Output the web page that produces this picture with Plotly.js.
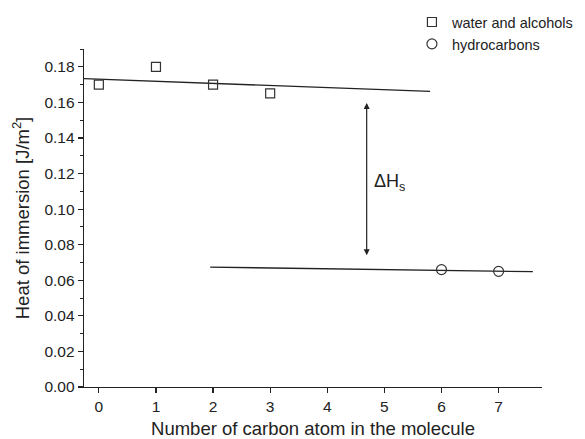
<!DOCTYPE html>
<html>
<head>
<meta charset="utf-8">
<script src="https://cdn.plot.ly/plotly-3.0.1.min.js"></script>
<style>html,body{margin:0;padding:0;background:#fff;}#chart{width:585px;height:439px;}</style>
</head>
<body>
<div id="chart"></div>
<script>
// Data
const alcoholsX = [0, 1, 2, 3];
const alcoholsY = [0.170, 0.180, 0.170, 0.165];
const hydroX = [6, 7];
const hydroY = [0.066, 0.065];
// Fitted lines (endpoints)
const fit1X = [-0.26, 5.8];
const fit1Y = [0.1733, 0.1662];
const fit2X = [1.95, 7.6];
const fit2Y = [0.0674, 0.0648];
// Delta H arrow
const arrowX = 4.69;
const arrowTop = 0.1597;
const arrowBottom = 0.0732;
const xTicks = [0, 1, 2, 3, 4, 5, 6, 7];
const yTicks = [0, 0.02, 0.04, 0.06, 0.08, 0.10, 0.12, 0.14, 0.16, 0.18];

const ink = '#222';
const font = {family: 'Liberation Sans, Arial, sans-serif', color: ink};

const traces = [
  {x: fit1X, y: fit1Y, mode: 'lines', line: {color: ink, width: 1.3}, showlegend: false, hoverinfo: 'skip'},
  {x: fit2X, y: fit2Y, mode: 'lines', line: {color: ink, width: 1.3}, showlegend: false, hoverinfo: 'skip'},
  {x: alcoholsX, y: alcoholsY, mode: 'markers', name: 'water and alcohols',
   marker: {symbol: 'square-open', size: 9, color: '#333', line: {width: 1.2}}},
  {x: hydroX, y: hydroY, mode: 'markers', name: 'hydrocarbons',
   marker: {symbol: 'circle-open', size: 10, color: '#333', line: {width: 1.2}}}
];

const layout = {
  width: 585, height: 439,
  margin: {l: 84, r: 43, t: 49, b: 52, autoexpand: false},
  paper_bgcolor: '#fff', plot_bgcolor: '#fff',
  font: Object.assign({size: 12}, font),
  showlegend: true,
  legend: {x: 0.716, y: 1.127, xanchor: 'left', yanchor: 'top', bgcolor: 'rgba(0,0,0,0)',
           font: Object.assign({size: 14.5}, font), tracegroupgap: 0, itemwidth: 30},
  xaxis: {
    range: [-0.26, 7.76], tickvals: xTicks, ticktext: xTicks.map(String),
    showline: true, linecolor: ink, linewidth: 1.3, mirror: false,
    ticks: 'outside', ticklen: 5, tickwidth: 1.2, tickcolor: ink,
    showgrid: false, zeroline: false,
    tickfont: Object.assign({size: 15.5}, font),
    title: {text: 'Number of carbon atom in the molecule', font: Object.assign({size: 18.5}, font), standoff: 8}
  },
  yaxis: {
    range: [0, 0.19], tickvals: yTicks, ticktext: yTicks.map(v => v.toFixed(2)),
    showline: true, linecolor: ink, linewidth: 1.3, mirror: false,
    ticks: 'outside', ticklen: 5, tickwidth: 1.2, tickcolor: ink,
    minor: {dtick: 0.01, tick0: 0, ticks: 'outside', ticklen: 3, tickwidth: 1, tickcolor: ink, showgrid: false},
    showgrid: false, zeroline: false,
    tickfont: Object.assign({size: 15.5}, font),
    title: {text: 'Heat of immersion [J/m<sup>2</sup>]', font: Object.assign({size: 18.5}, font), standoff: 10}
  },
  annotations: [
    {x: arrowX, y: arrowTop, ax: arrowX, ay: arrowBottom, xref: 'x', yref: 'y', axref: 'x', ayref: 'y',
     text: '', showarrow: true, arrowhead: 2, arrowside: 'end+start', arrowsize: 1, arrowwidth: 1.2, arrowcolor: ink},
    {x: arrowX + 0.1, y: 0.115, xref: 'x', yref: 'y', xanchor: 'left', yanchor: 'middle', showarrow: false,
     text: 'ΔH<sub>s</sub>', font: Object.assign({size: 18}, font)}
  ]
};

Plotly.newPlot('chart', traces, layout, {staticPlot: true, displayModeBar: false});
</script>
</body>
</html>
